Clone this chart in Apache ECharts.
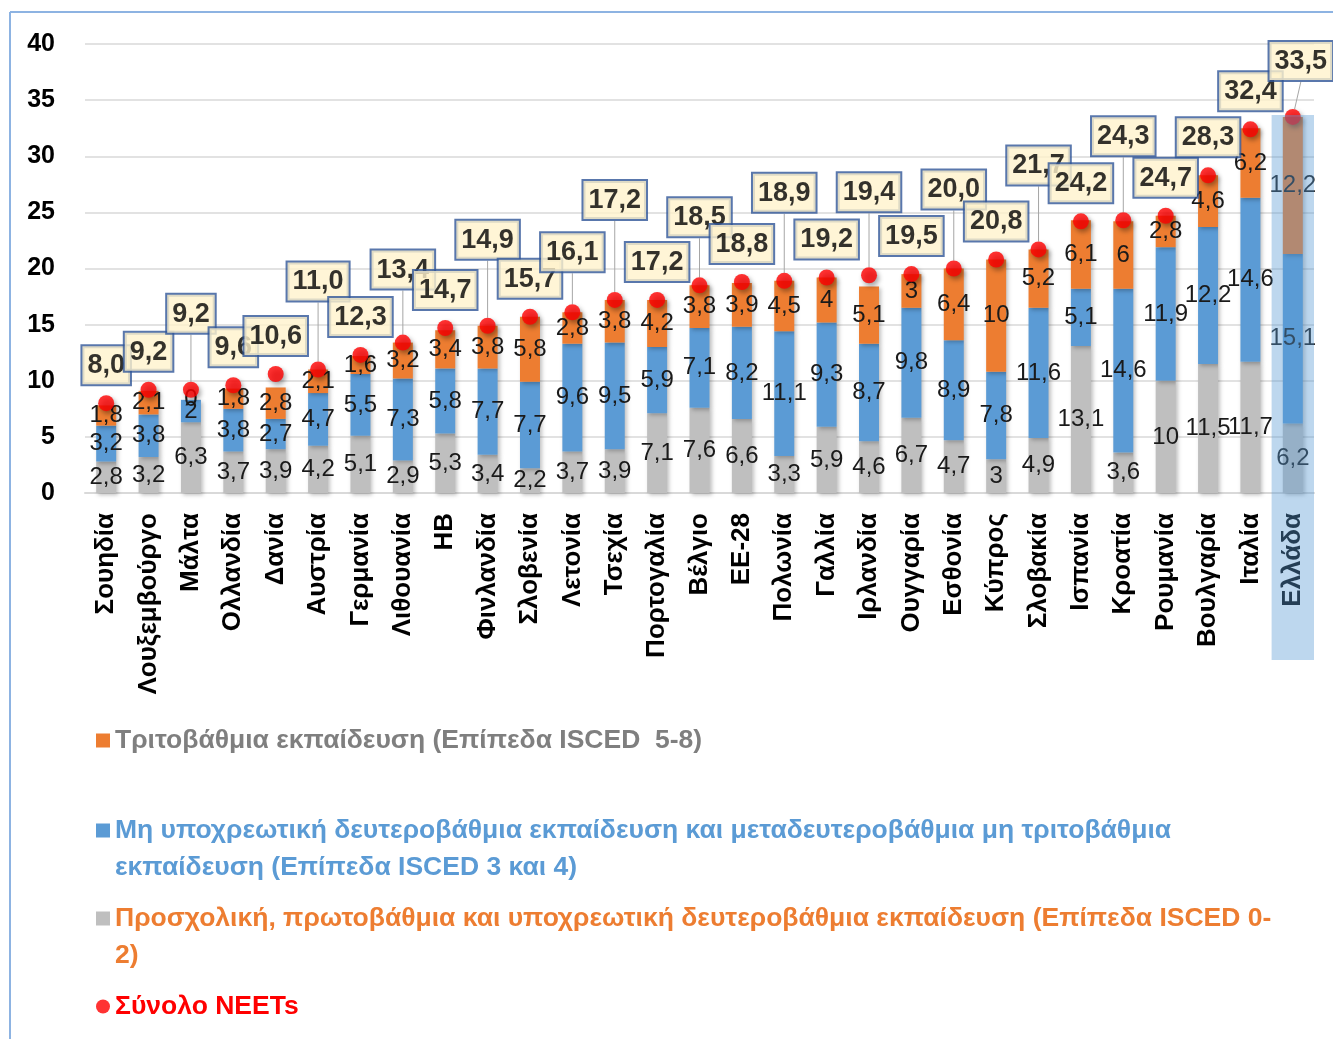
<!DOCTYPE html>
<html>
<head>
<meta charset="utf-8">
<script src="https://cdn.jsdelivr.net/npm/echarts@6/dist/echarts.min.js"></script>
<style>
  html, body { margin: 0; padding: 0; background: #fff; }
  #chart { width: 1333px; height: 1039px; }
</style>
</head>
<body>
<div id="chart"></div>
<script>
// χώρες (ταξινομημένες κατά σύνολο NEETs)
const countries = ['Σουηδία', 'Λουξεμβούργο', 'Μάλτα', 'Ολλανδία', 'Δανία', 'Αυστρία', 'Γερμανία', 'Λιθουανία', 'ΗΒ', 'Φινλανδία',
  'Σλοβενία', 'Λετονία', 'Τσεχία', 'Πορτογαλία', 'Βέλγιο', 'ΕΕ-28', 'Πολωνία', 'Γαλλία', 'Ιρλανδία', 'Ουγγαρία',
  'Εσθονία', 'Κύπρος', 'Σλοβακία', 'Ισπανία', 'Κροατία', 'Ρουμανία', 'Βουλγαρία', 'Ιταλία', 'Ελλάδα'];

// ISCED 0-2
const isced02 = [2.8, 3.2, 6.3, 3.7, 3.9, 4.2, 5.1, 2.9, 5.3, 3.4, 2.2, 3.7, 3.9, 7.1, 7.6, 6.6, 3.3, 5.9, 4.6, 6.7,
  4.7, 3, 4.9, 13.1, 3.6, 10, 11.5, 11.7, 6.2];
// ISCED 3-4
const isced34 = [3.2, 3.8, 2, 3.8, 2.7, 4.7, 5.5, 7.3, 5.8, 7.7, 7.7, 9.6, 9.5, 5.9, 7.1, 8.2, 11.1, 9.3, 8.7, 9.8,
  8.9, 7.8, 11.6, 5.1, 14.6, 11.9, 12.2, 14.6, 15.1];
// ISCED 5-8
const isced58 = [1.8, 2.1, 0, 1.8, 2.8, 2.1, 1.6, 3.2, 3.4, 3.8, 5.8, 2.8, 3.8, 4.2, 3.8, 3.9, 4.5, 4, 5.1, 3,
  6.4, 10, 5.2, 6.1, 6, 2.8, 4.6, 6.2, 12.2];
// σύνολο NEETs
const totals = [8.0, 9.2, 9.2, 9.6, 10.6, 11.0, 12.3, 13.4, 14.7, 14.9, 15.7, 16.1, 17.2, 17.2, 18.5, 18.8, 18.9, 19.2, 19.4, 19.5,
  20.0, 20.8, 21.7, 24.2, 24.3, 24.7, 28.3, 32.4, 33.5];

const names = {
  tertiary: 'Τριτοβάθμια εκπαίδευση (Επίπεδα ISCED  5-8)',
  upper: 'Μη υποχρεωτική δευτεροβάθμια εκπαίδευση και μεταδευτεροβάθμια μη τριτοβάθμια εκπαίδευση (Επίπεδα ISCED 3 και 4)',
  lower: 'Προσχολική, πρωτοβάθμια και υποχρεωτική δευτεροβάθμια εκπαίδευση (Επίπεδα ISCED 0-2)',
  total: 'Σύνολο NEETs'
};
// κενή πρώτη γραμμή: το εικονίδιο στοιχίζεται με την πρώτη γραμμή κειμένου
const legendText = {
  [names.tertiary]: names.tertiary,
  [names.upper]: ' \nΜη υποχρεωτική δευτεροβάθμια εκπαίδευση και μεταδευτεροβάθμια μη τριτοβάθμια\nεκπαίδευση (Επίπεδα ISCED 3 και 4)',
  [names.lower]: ' \nΠροσχολική, πρωτοβάθμια και υποχρεωτική δευτεροβάθμια εκπαίδευση (Επίπεδα ISCED 0-\n2)',
  [names.total]: names.total
};

const FONT = "'Liberation Sans', Arial, sans-serif";

const fmt = v => String(v).replace('.', ',');
const fmt1 = v => v.toFixed(1).replace('.', ',');

// ανύψωση ετικετών συνόλου ώστε να μην επικαλύπτονται (px)
const labelLift = { 2: [38], 5: [50], 7: [35], 9: [48], 11: [22], 12: [62], 14: [30], 16: [50], 18: [45], 20: [41], 22: [46], 24: [46], 28: [18, 8] };

function barSeries(name, data, color) {
  return {
    name: name,
    type: 'bar',
    stack: 'neet',
    data: data,
    barWidth: 20,
    itemStyle: {
      color: color,
      shadowBlur: 4,
      shadowOffsetX: 2,
      shadowOffsetY: 2,
      shadowColor: 'rgba(0,0,0,0.25)'
    },
    label: {
      show: true,
      position: 'inside',
      formatter: p => fmt(p.value),
      fontFamily: FONT,
      fontSize: 24,
      color: '#1a1a1a'
    },
    emphasis: { disabled: true }
  };
}

const legendBase = {
  orient: 'vertical',
  left: 96,
  padding: 0,
  itemWidth: 14,
  itemHeight: 14,
  itemGap: 0,
  selectedMode: false,
  formatter: name => legendText[name],
  textStyle: { fontFamily: FONT, fontWeight: 'bold', fontSize: 26.5, lineHeight: 37 }
};

const chart = echarts.init(document.getElementById('chart'));

const option = {
  backgroundColor: '#fff',
  animation: false,
  grid: { left: 85, right: 19, top: 44, bottom: 546 },
  xAxis: {
    type: 'category',
    data: countries,
    axisLine: { lineStyle: { color: '#d9d9d9', width: 2 } },
    axisTick: { show: false },
    axisLabel: {
      interval: 0,
      rotate: 90,
      margin: 20,
      fontFamily: FONT,
      fontWeight: 'bold',
      fontSize: 26,
      color: '#000'
    }
  },
  yAxis: {
    type: 'value',
    min: 0,
    max: 40,
    interval: 5,
    axisLine: { show: false },
    axisTick: { show: false },
    splitLine: { lineStyle: { color: '#d9d9d9', width: 1.5 } },
    axisLabel: { margin: 30, fontFamily: FONT, fontWeight: 'bold', fontSize: 25, color: '#000' }
  },
  legend: [
    Object.assign({}, legendBase, { top: 722, icon: 'rect', data: [{ name: names.tertiary, textStyle: { color: '#7f7f7f' } }] }),
    Object.assign({}, legendBase, { top: 775, icon: 'rect', data: [{ name: names.upper, textStyle: { color: '#5b9bd5' } }] }),
    Object.assign({}, legendBase, { top: 863, icon: 'rect', data: [{ name: names.lower, textStyle: { color: '#ed7d31' } }] }),
    Object.assign({}, legendBase, { top: 988, icon: 'circle', data: [{ name: names.total, textStyle: { color: '#ff0000' } }] })
  ],
  graphic: [
    { id: 'frameLeft', type: 'line', shape: { x1: 10, y1: 12, x2: 10, y2: 1039 }, style: { stroke: '#8db3e2', lineWidth: 2 }, silent: true },
    { id: 'frameTop', type: 'line', shape: { x1: 10, y1: 12, x2: 1333, y2: 12 }, style: { stroke: '#8db3e2', lineWidth: 2 }, silent: true }
  ],
  series: [
    barSeries(names.lower, isced02, '#bfbfbf'),
    barSeries(names.upper, isced34, '#5b9bd5'),
    barSeries(names.tertiary, isced58, '#ed7d31'),
    {
      name: names.total,
      type: 'scatter',
      z: 5,
      symbolSize: 16,
      data: totals.map((v, i) => ({ value: [countries[i], v], labelLine: { show: !!labelLift[i] } })),
      itemStyle: {
        color: '#ff0000',
        shadowBlur: 5,
        shadowOffsetX: 2,
        shadowOffsetY: 3,
        shadowColor: 'rgba(0,0,0,0.45)'
      },
      label: {
        show: true,
        position: 'top',
        distance: 11,
        formatter: p => fmt1(p.value[1]),
        fontFamily: FONT,
        fontWeight: 'bold',
        fontSize: 27,
        lineHeight: 31,
        color: '#000',
        backgroundColor: '#fff2cc',
        borderColor: '#2f5597',
        borderWidth: 2,
        padding: [4, 5, 3, 5]
      },
      labelLine: { show: false, lineStyle: { color: '#a6a6a6', width: 1 } },
      labelLayout: p => {
        const l = labelLift[p.dataIndex];
        return l ? { dy: -l[0], dx: l[1] || 0 } : {};
      },
      emphasis: { disabled: true }
    }
  ]
};

chart.setOption(option);

// επισήμανση Ελλάδας
const last = countries.length - 1;
const pG = chart.convertToPixel({ gridIndex: 0 }, [countries[last], totals[last]]);
const pPrev = chart.convertToPixel({ gridIndex: 0 }, [countries[last - 1], totals[last]]);
const w = pG[0] - pPrev[0];
chart.setOption({
  graphic: [{
    id: 'greece',
    type: 'rect',
    z: 100,
    silent: true,
    shape: { x: pG[0] - w / 2, y: pG[1] - 2, width: w, height: 660 - (pG[1] - 2) },
    style: { fill: 'rgba(91,155,213,0.4)' }
  }]
});

window.addEventListener('resize', () => chart.resize());
</script>
</body>
</html>
